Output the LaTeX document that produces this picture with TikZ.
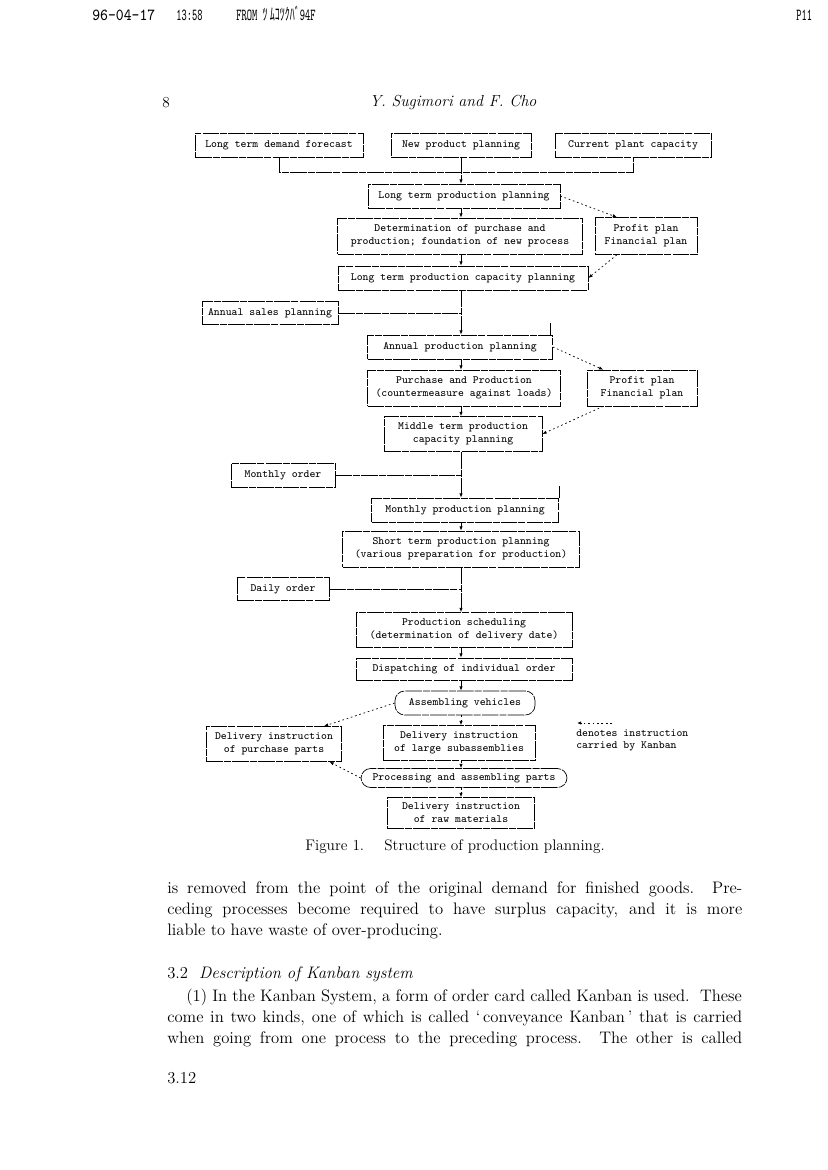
\documentclass[tikz,border=0pt]{standalone}
\usepackage{fontspec}
\usepackage{graphicx}
\newfontfamily\jpfont{Noto Sans CJK JP}
\usetikzlibrary{arrows.meta,calc}
\tikzset{
  bx/.style n args={2}{draw, line width=0.5pt, dash pattern=on 12pt off 0.8pt on 5pt off 0.8pt,
    minimum width=#1*0.72pt, minimum height=#2*0.72pt, inner sep=0pt, align=center,
    font=\fontsize{8}{9.3}\selectfont\ttfamily},
  rbx/.style n args={2}{bx={#1}{#2}, rounded corners=7pt},
  ln/.style={line width=0.5pt, dash pattern=on 12pt off 0.8pt on 5pt off 0.8pt},
  ar/.style={ln, -{Latex[length=3pt,width=2.4pt]}},
  kb/.style={line width=0.5pt, dash pattern=on 1.2pt off 2pt, -{Latex[length=3pt,width=2.4pt]}},
  body/.style={anchor=base west, inner sep=0pt, font=\fontsize{12}{14}\selectfont},
  hdr/.style={anchor=base west, inner sep=0pt, font=\fontsize{9}{11}\selectfont\ttfamily},
  legend/.style={anchor=north west, inner sep=0pt, align=left, font=\fontsize{8}{9.3}\selectfont\ttfamily},
}
\begin{document}
\begin{tikzpicture}[x=0.72pt,y=-0.72pt]
\useasboundingbox (0,0) rectangle (827,1170);
% fax header
\node[hdr] (h1) at (92,21) {\scalebox{1.2}[1.35]{96-04-17}};
\node[hdr] (h2) at (176,21) {\scalebox{0.8}[1.35]{13:58}};
\node[hdr] (h3) at (236,21) {\scalebox{0.8}[1.35]{FROM {\jpfont ﾂ ﾑｺﾂｸﾊﾞ}94F}};
\node[hdr] (h4) at (796,21) {\scalebox{0.8}[1.35]{P11}};
% running head
\node[font=\fontsize{11}{14}\selectfont] (pg) at (166,103) {8};
\node[font=\fontsize{11.5}{14}\selectfont\itshape] (ttl) at (453,103) {Y. Sugimori and F. Cho};
% spine
\coordinate (sp) at (461,0);
% boxes
\node[bx={168}{24}] (ldf) at (279,145) {Long term demand forecast};
\node[bx={140}{24}] (npp) at (461,145) {New product planning};
\node[bx={156}{24}] (cpc) at (633,145) {Current plant capacity};
\node[bx={192}{24}] (ltpp) at (464,196) {Long term production planning};
\node[bx={245}{36}] (det) at (460,236) {Determination of purchase and\\production; foundation of new process};
\node[bx={102}{37}] (pp1) at (646,236) {Profit plan\\Financial plan};
\node[bx={250}{24}] (ltcp) at (463,278) {Long term production capacity planning};
\node[bx={136}{23}] (asp) at (270,313) {Annual sales planning};
\node[bx={185}{24}] (app) at (460,347) {Annual production planning};
\node[bx={193}{36}] (pur) at (464,388) {Purchase and Production\\(countermeasure against loads)};
\node[bx={110}{36}] (pp2) at (642,388) {Profit plan\\Financial plan};
\node[bx={158}{35}] (mtcp) at (463,434) {Middle term production\\capacity planning};
\node[bx={104}{24}] (mo) at (283,475) {Monthly order};
\node[bx={187}{24}] (mpp) at (465,510) {Monthly production planning};
\node[bx={237}{36}] (stpp) at (461,549) {Short term production planning\\(various preparation for production)};
\node[bx={92}{23}] (do) at (283,589) {Daily order};
\node[bx={216}{35}] (ps) at (464,630) {Production scheduling\\(determination of delivery date)};
\node[bx={216}{22}] (dis) at (464,669) {Dispatching of individual order};
\node[rbx={140}{24}] (av) at (465,703) {Assembling vehicles};
\node[bx={135}{35}] (dipp) at (274,744) {Delivery instruction\\of purchase parts};
\node[bx={152}{35}] (dils) at (459,743) {Delivery instruction\\of large subassemblies};
\node[rbx={206}{19}] (pap) at (464,778) {Processing and assembling parts};
\node[bx={147}{31}] (dirm) at (461,813) {Delivery instruction\\of raw materials};
% main flow
\draw[ln] (ldf.south) -- ++(0,15) -| (cpc.south);
\draw[ar] (npp.south) -- (npp.south |- ltpp.north);
\draw[ar] (sp |- ltpp.south) -- (sp |- det.north);
\draw[ar] (sp |- det.south) -- (sp |- ltcp.north);
\draw[ar] (sp |- ltcp.south) -- (sp |- app.north);
\draw[ln] (asp.east) -- (sp |- asp.east);
\draw[ln] ([xshift=-2pt]app.north east) -- ++(0,-12);
\draw[ar] (sp |- app.south) -- (sp |- pur.north);
\draw[ar] (sp |- pur.south) -- (sp |- mtcp.north);
\draw[ar] (sp |- mtcp.south) -- (sp |- mpp.north);
\draw[ln] (mo.east) -- (sp |- mo.east);
\draw[ln] (mpp.north east) -- ++(0,-12);
\draw[ar] (sp |- mpp.south) -- (sp |- stpp.north);
\draw[ar] (sp |- stpp.south) -- (sp |- ps.north);
\draw[ln] (do.east) -- (sp |- do.east);
\draw[ar] (sp |- ps.south) -- (sp |- dis.north);
\draw[ar] (sp |- dis.south) -- (sp |- av.north);
% profit plan links
\draw[kb] (ltpp.east) -- ([xshift=-21pt]pp1.north);
\draw[kb] ([xshift=-21pt]pp1.south) -- (ltcp.east);
\draw[kb] (app.east) -- ([xshift=-28pt]pp2.north);
\draw[kb] ([xshift=-28pt]pp2.south) -- (mtcp.east);
% kanban links
\draw[kb] (av.west) -- ([xshift=36pt]dipp.north);
\draw[kb] (sp |- av.south) -- (sp |- dils.north);
\draw[kb] (sp |- dils.south) -- (sp |- pap.north);
\draw[kb] (pap.west) -- ([xshift=40pt]dipp.south);
\draw[kb] (sp |- pap.south) -- (sp |- dirm.north);
% legend
\coordinate (lga) at (577,723);
\coordinate (lgb) at (612,723);
\draw[kb] (lgb) -- (lga);
\node[legend] (lgt) at (576,729) {denotes instruction\\carried by Kanban};
% caption
\node[font=\fontsize{11}{14}\selectfont] (cap) at (455,847) {Figure 1.\quad\ Structure of production planning.};
% body text
\node[body] (b1) at (167,893) {\makebox[414pt][s]{is removed from the point of the original demand for finished goods.\ \ Pre-}};
\node[body] (b2) at (167,914) {\makebox[414pt][s]{ceding processes become required to have surplus capacity, and it is more}};
\node[body] (b3) at (167,935) {liable to have waste of over-producing.};
\node[body] (b4) at (167,978) {3.2\ \ \textit{Description of Kanban system}};
\node[body] (b5) at (186,1001) {\makebox[400pt][s]{(1) In the Kanban System, a form of order card called Kanban is used.\ \ These}};
\node[body] (b6) at (167,1022) {\makebox[414pt][s]{come in two kinds, one of which is called `\,conveyance Kanban\,' that is carried}};
\node[body] (b7) at (167,1043) {\makebox[414pt][s]{when going from one process to the preceding process.\ \ The other is called}};
\node[body] (ft) at (167,1083) {3.12};
\end{tikzpicture}
\end{document}
